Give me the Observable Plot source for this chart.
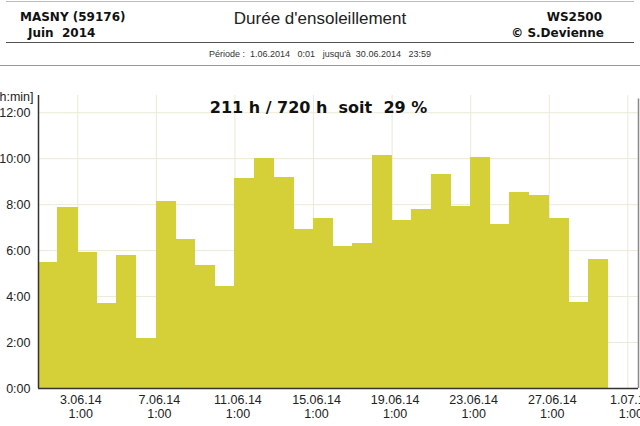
<!DOCTYPE html>
<html><head><meta charset="utf-8">
<script src="https://cdn.jsdelivr.net/npm/d3@7"></script>
<script src="https://cdn.jsdelivr.net/npm/@observablehq/plot@0.6"></script>
<style>
body{margin:0;background:#fff;width:640px;height:426px;overflow:hidden;position:relative;font-family:"Liberation Sans",Arial,sans-serif;}
.h{position:absolute;white-space:pre;color:#111;line-height:1}
.b{font-family:"DejaVu Sans",Verdana,sans-serif;font-weight:bold;font-size:12px}
.line{position:absolute;left:6px;right:6px}
</style></head><body>
<div class="line" style="top:1px;border-top:1px solid #bbb"></div>
<div class="h b" style="left:20px;top:11px">MASNY (59176)</div>
<div class="h b" style="left:28px;top:27px">Juin  2014</div>
<div class="h" style="left:0;width:640px;text-align:center;top:10px;font-size:17px;color:#222">Durée d'ensoleillement</div>
<div class="h b" style="right:38px;top:11px">WS2500</div>
<div class="h b" style="right:36px;top:27px">© S.Devienne</div>
<div class="line" style="top:42px;border-top:1.5px solid #555"></div>
<div class="h" style="left:0;width:640px;text-align:center;top:50px;font-size:9px;color:#333">Période :  1.06.2014   0:01   jusqu'à  30.06.2014   23:59</div>
<div class="line" style="top:65px;border-top:1px solid #999;left:0;right:0"></div>
<div id="chart" style="position:absolute;left:0;top:68px"></div>
<script>
const dayOfMonth = [1,2,3,4,5,6,7,8,9,10,11,12,13,14,15,16,17,18,19,20,21,22,23,24,25,26,27,28,29];
const sunshine = ["5:29","7:53","5:56","3:41","5:46","2:10","8:09","6:29","5:21","4:27","9:07","10:00","9:11","6:55","7:23","6:10","6:19","10:08","7:18","7:47","9:20","7:55","10:03","7:08","8:31","8:24","7:25","3:44","5:37"];
const tickLabels = ["3.06.14","7.06.14","11.06.14","15.06.14","19.06.14","23.06.14","27.06.14","1.07.14"];
const tickHour = "1:00";
const yTicks = [0,2,4,6,8,10,12];
const summary = "211 h / 720 h  soit  29 %";
const yLabel = "[h:min]";

const parseHM = s => { const [h, m] = s.split(":").map(Number); return h + m / 60; };
const start = d => new Date(Date.UTC(2014, 5, d, 1));
const data = dayOfMonth.map((d, i) => ({x1: start(d), x2: start(d + 1), y: parseHM(sunshine[i])}));
const parseTick = s => { const [d, m, y] = s.split(".").map(Number); return new Date(Date.UTC(2000 + y, m - 1, d, 1)); };
const ticks = tickLabels.map(parseTick);
const labelOf = new Map(ticks.map((t, i) => [+t, tickLabels[i] + "\n" + tickHour]));
const xDomain = [start(1), new Date(Date.UTC(2014, 6, 1, 14))];

const chart = Plot.plot({
  width: 640, height: 358,
  marginLeft: 38, marginRight: 2, marginTop: 27, marginBottom: 38,
  style: {fontFamily: "'Liberation Sans', Arial, sans-serif", fontSize: "12px", color: "#222", background: "white", overflow: "visible"},
  x: {type: "utc", domain: xDomain},
  y: {domain: [0, 12.75]},
  marks: [
    Plot.gridY(yTicks, {stroke: "#ebe9d6", strokeOpacity: 1}),
    Plot.gridX(ticks, {stroke: "#ebe9d6", strokeOpacity: 1}),
    Plot.rectY(data, {x1: "x1", x2: "x2", y: "y", fill: "#d5cf38", shapeRendering: "crispEdges", insetLeft: -0.25, insetRight: -0.25}),
    Plot.axisY(yTicks, {tickSize: 0, tickPadding: 8, tickFormat: d => `${d}:00`, label: null, fontSize: 12.5}),
    Plot.axisX(ticks, {tickSize: 0, tickPadding: 5, tickFormat: d => labelOf.get(+d), label: null, lineHeight: 1.15, dx: 3, fontSize: 12.5}),
    Plot.ruleY([0], {stroke: "#333", strokeWidth: 1.5}),
    Plot.ruleX([xDomain[0]], {stroke: "#333", strokeWidth: 1.5}),
    Plot.ruleX([xDomain[1]], {stroke: "#888", strokeWidth: 1.5, y1: 0, y2: 12.6}),
    Plot.text([yLabel], {frameAnchor: "top-left", textAnchor: "end", dx: -5, dy: -3, fontSize: 12.5}),
    Plot.text([summary.replace(/  /g, " \u00a0")], {frameAnchor: "top", dx: -20, dy: 6, fontWeight: "bold", fontSize: 16, fontFamily: "'DejaVu Sans', Verdana, sans-serif", fill: "#111"})
  ]
});
document.getElementById("chart").append(chart);
</script>
</body></html>
